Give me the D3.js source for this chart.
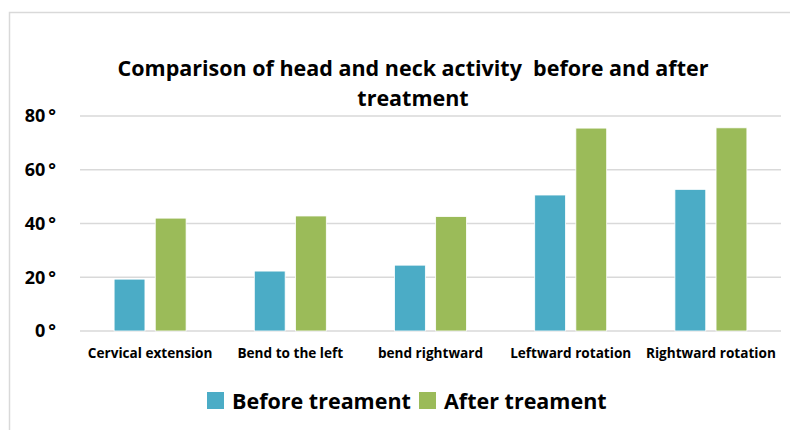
<!DOCTYPE html>
<html>
<head>
<meta charset="utf-8">
<script src="https://cdn.jsdelivr.net/npm/d3@7"></script>
<style>
  body { margin: 0; background: #fff; }
  text { font-family: "Open Sans", sans-serif; font-weight: bold; fill: #000; }
</style>
</head>
<body>
<div id="container"></div>
<script>
/* DATA */
const categories = ["Cervical extension", "Bend to the left", "bend rightward", "Leftward rotation", "Rightward rotation"];
const seriesNames = ["Before treament", "After treament"];
const beforeValues = [19.3, 22.3, 24.5, 50.6, 52.7];
const afterValues = [42.0, 42.8, 42.6, 75.5, 75.6];
const yTicks = [0, 20, 40, 60, 80];

/* CONSTANTS */
const width = 790, height = 430;
const margin = { top: 116, bottom: 99, left: 80, right: 9 };
const colors = ["#4BACC6", "#9BBB59"];

const svg = d3.select("#container")
  .append("svg")
  .attr("width", width)
  .attr("height", height);

// chart frame (only top / left edges visible)
svg.append("rect")
  .attr("x", 9.5).attr("y", 12.5)
  .attr("width", 900).attr("height", 600)
  .attr("fill", "none")
  .attr("stroke", "#D9D9D9")
  .attr("stroke-width", 1.5);

/* SCALES */
const xScale = d3.scaleBand()
  .domain(categories)
  .range([margin.left, width - margin.right])
  .paddingInner(0)
  .paddingOuter(0);

const xInner = d3.scaleBand()
  .domain(seriesNames)
  .range([xScale.bandwidth() / 2 - 36, xScale.bandwidth() / 2 + 36])
  .paddingInner(0.25);

const yScale = d3.scaleLinear()
  .domain([0, 80])
  .range([height - margin.bottom, margin.top]);

/* GRIDLINES */
svg.append("g")
  .selectAll("line")
  .data(yTicks)
  .join("line")
  .attr("x1", margin.left)
  .attr("x2", width - margin.right)
  .attr("y1", d => yScale(d))
  .attr("y2", d => yScale(d))
  .attr("stroke", "#D9D9D9")
  .attr("stroke-width", 1.5);

/* Y AXIS */
const yAxis = d3.axisLeft(yScale)
  .tickValues(yTicks)
  .tickFormat(d => `${d}\u2009°`)
  .tickSize(0)
  .tickPadding(0);

svg.append("g")
  .attr("transform", `translate(${margin.left - 24}, 0)`)
  .call(yAxis)
  .call(g => g.select(".domain").remove())
  .selectAll(".tick text")
  .attr("font-size", "18px")
  .attr("font-family", "Open Sans, sans-serif")
  .attr("font-weight", "bold")
  .attr("fill", "#000");

/* BARS */
const rows = categories.map((c, i) => ({ category: c, values: [beforeValues[i], afterValues[i]] }));

svg.append("g")
  .selectAll("g")
  .data(rows)
  .join("g")
  .attr("transform", d => `translate(${xScale(d.category)}, 0)`)
  .selectAll("rect")
  .data(d => d.values.map((v, i) => ({ key: seriesNames[i], value: v, i })))
  .join("rect")
  .attr("x", d => xInner(d.key))
  .attr("width", xInner.bandwidth())
  .attr("y", d => yScale(d.value))
  .attr("height", d => yScale(0) - yScale(d.value))
  .attr("fill", d => colors[d.i])
  .attr("stroke", "#fff")
  .attr("stroke-width", 0.8);

/* X AXIS */
const xAxis = d3.axisBottom(xScale)
  .tickSize(0)
  .tickPadding(17);

svg.append("g")
  .attr("transform", `translate(0, ${height - margin.bottom})`)
  .call(xAxis)
  .call(g => g.select(".domain").remove())
  .selectAll(".tick text")
  .attr("font-size", "13.6px")
  .attr("font-family", "Open Sans, sans-serif")
  .attr("font-weight", "bold")
  .attr("fill", "#000");

/* TITLE */
const title = svg.append("text")
  .attr("text-anchor", "middle")
  .attr("font-size", "21.5px")
  .style("white-space", "pre");
title.append("tspan").attr("x", 413).attr("y", 76).text("Comparison of head and neck activity  before and after");
title.append("tspan").attr("x", 413).attr("y", 106).text("treatment");

/* LEGEND */
const legendX = [207, 419];
const legend = svg.append("g")
  .selectAll("g")
  .data(seriesNames)
  .join("g")
  .attr("transform", (d, i) => `translate(${legendX[i]}, 392)`);

legend.append("rect")
  .attr("width", 17)
  .attr("height", 17)
  .attr("fill", (d, i) => colors[i]);

legend.append("text")
  .attr("x", 25)
  .attr("y", 17)
  .attr("font-size", "21.5px")
  .text(d => d);
</script>
</body>
</html>
